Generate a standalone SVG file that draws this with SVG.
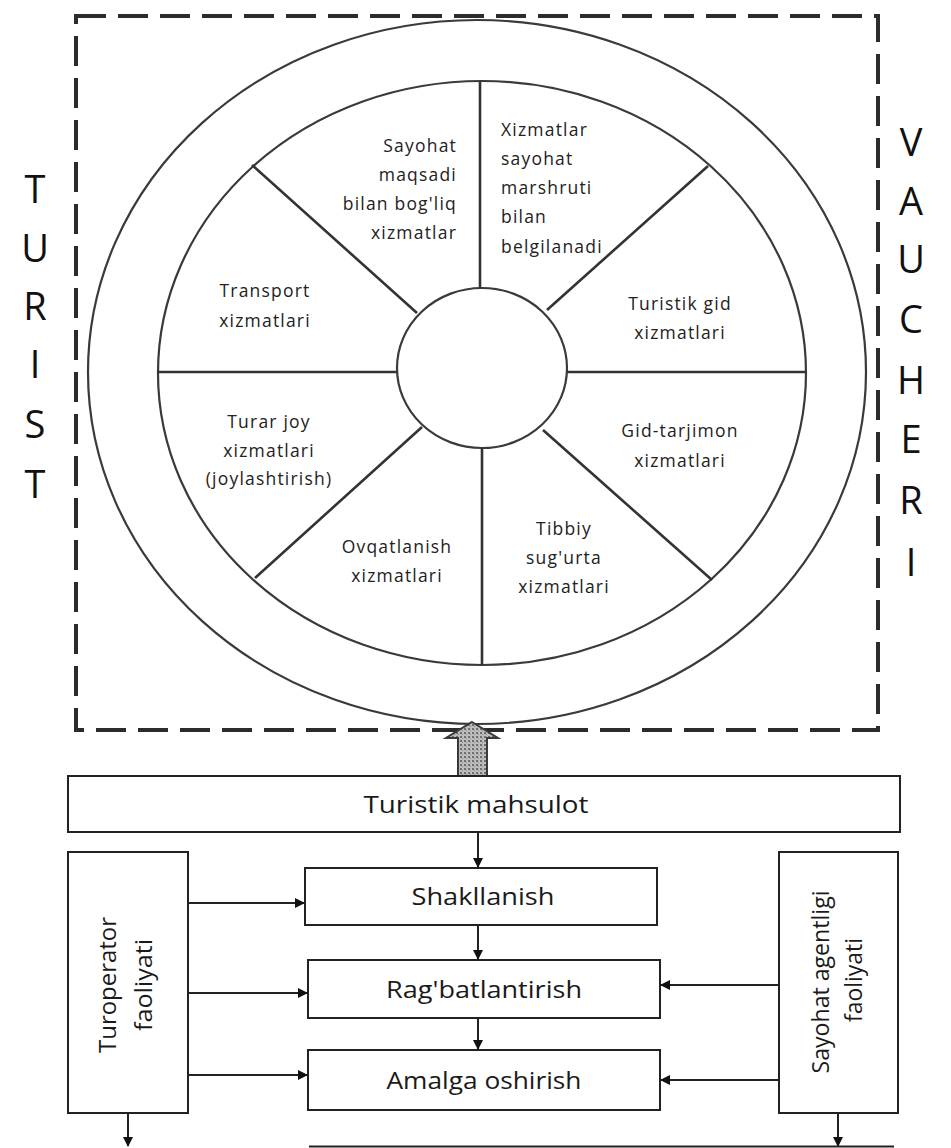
<svg xmlns="http://www.w3.org/2000/svg" width="951" height="1148" viewBox="0 0 951 1148">
  <style>
    .wheel { fill: none; stroke: #3a3a3a; stroke-width: 2.2; }
    .spoke { stroke: #333; stroke-width: 2.6; }
    .lbl { font-family: "Open Sans", "Noto Sans", sans-serif; font-size: 17.5px; fill: #222; letter-spacing: 1.2px; }
    .side { font-family: "Open Sans", "Noto Sans", sans-serif; font-size: 38px; fill: #111; text-anchor: middle; }
    .box { fill: #fff; stroke: #222; stroke-width: 2; }
    .btxt { font-family: "Open Sans", "Noto Sans", sans-serif; font-size: 24px; fill: #1a1a1a; text-anchor: middle; }
    .conn { stroke: #222; stroke-width: 2; fill: none; }
  </style>
  <defs>
    <marker id="ah" markerWidth="10" markerHeight="10" refX="9" refY="5" orient="auto" markerUnits="userSpaceOnUse">
      <path d="M0,0 L10,5 L0,10 Z" fill="#111"/>
    </marker>
    <pattern id="grain" width="4" height="4" patternUnits="userSpaceOnUse">
      <rect width="4" height="4" fill="#bdbdbd"/>
      <rect x="0" y="0" width="2" height="2" fill="#6e6e6e"/>
      <rect x="2" y="2" width="1" height="1" fill="#8c8c8c"/>
    </pattern>
  </defs>
  <rect width="951" height="1148" fill="#fff"/>

  <!-- dashed frame around the wheel -->
  <g id="frame">
    <rect x="76" y="16" width="802" height="714" fill="none" stroke="#2c2c2c" stroke-width="4" stroke-dasharray="30 12"/>
  </g>

  <!-- wheel of tourist services -->
  <g id="wheel">
    <ellipse class="wheel" cx="477" cy="372" rx="389" ry="352"/>
    <ellipse class="wheel" cx="482" cy="373" rx="324" ry="292"/>
    <ellipse class="wheel" cx="482" cy="368" rx="85" ry="80"/>
    <line class="spoke" x1="480" y1="288" x2="480" y2="81" stroke-width="3.2"/>
    <line class="spoke" x1="482" y1="448" x2="482" y2="665"/>
    <line class="spoke" x1="158" y1="372" x2="397" y2="372"/>
    <line class="spoke" x1="567" y1="372" x2="806" y2="372"/>
    <line class="spoke" x1="252" y1="165" x2="417" y2="313"/>
    <line class="spoke" x1="708" y1="166" x2="547" y2="310"/>
    <line class="spoke" x1="422" y1="427" x2="255" y2="578"/>
    <line class="spoke" x1="543" y1="430" x2="712" y2="580"/>
  </g>

  <g id="seg-maqsad" class="lbl" text-anchor="end">
    <text x="457" y="152">Sayohat</text>
    <text x="457" y="181">maqsadi</text>
    <text x="457" y="210">bilan bog'liq</text>
    <text x="457" y="239">xizmatlar</text>
  </g>
  <g id="seg-marshrut" class="lbl" text-anchor="start">
    <text x="501" y="136">Xizmatlar</text>
    <text x="501" y="165">sayohat</text>
    <text x="501" y="194">marshruti</text>
    <text x="501" y="223">bilan</text>
    <text x="501" y="253">belgilanadi</text>
  </g>
  <g id="seg-gid" class="lbl" text-anchor="middle">
    <text x="680" y="310">Turistik gid</text>
    <text x="680" y="339">xizmatlari</text>
  </g>
  <g id="seg-transport" class="lbl" text-anchor="middle">
    <text x="265" y="297">Transport</text>
    <text x="265" y="327">xizmatlari</text>
  </g>
  <g id="seg-turar" class="lbl" text-anchor="middle">
    <text x="269" y="428">Turar joy</text>
    <text x="269" y="457">xizmatlari</text>
    <text x="269" y="485">(joylashtirish)</text>
  </g>
  <g id="seg-ovqat" class="lbl" text-anchor="middle">
    <text x="397" y="553">Ovqatlanish</text>
    <text x="397" y="582">xizmatlari</text>
  </g>
  <g id="seg-tarjimon" class="lbl" text-anchor="middle">
    <text x="680" y="437">Gid-tarjimon</text>
    <text x="680" y="467">xizmatlari</text>
  </g>
  <g id="seg-tibbiy" class="lbl" text-anchor="middle">
    <text x="564" y="535">Tibbiy</text>
    <text x="564" y="564">sug'urta</text>
    <text x="564" y="593">xizmatlari</text>
  </g>

  <!-- vertical side captions -->
  <g id="turist" class="side">
    <text x="35" y="203">T</text>
    <text x="35" y="262">U</text>
    <text x="35" y="320">R</text>
    <text x="35" y="378">I</text>
    <text x="35" y="438">S</text>
    <text x="35" y="498">T</text>
  </g>
  <g id="vaucheri" class="side">
    <text x="911" y="156">V</text>
    <text x="911" y="215">A</text>
    <text x="911" y="273">U</text>
    <text x="911" y="333">C</text>
    <text x="911" y="394">H</text>
    <text x="911" y="453">E</text>
    <text x="911" y="514">R</text>
    <text x="911" y="576">I</text>
  </g>

  <!-- product arrow feeding the wheel -->
  <g id="product-arrow">
    <polygon points="472,722 498,738 487,738 487,776 458,776 458,738 446,738" fill="url(#grain)" stroke="#3a3a3a" stroke-width="2"/>
  </g>

  <g id="mahsulot">
    <rect class="box" x="68" y="776" width="832" height="56"/>
    <text class="btxt" x="476" y="813" textLength="225" lengthAdjust="spacingAndGlyphs">Turistik mahsulot</text>
  </g>
  <g id="shakllanish">
    <rect class="box" x="305" y="868" width="352" height="57"/>
    <text class="btxt" x="483" y="905" textLength="143" lengthAdjust="spacingAndGlyphs">Shakllanish</text>
  </g>
  <g id="ragbat">
    <rect class="box" x="308" y="960" width="352" height="58"/>
    <text class="btxt" x="484" y="998" textLength="196" lengthAdjust="spacingAndGlyphs">Rag'batlantirish</text>
  </g>
  <g id="amalga">
    <rect class="box" x="308" y="1050" width="352" height="60"/>
    <text class="btxt" x="484" y="1089" textLength="195" lengthAdjust="spacingAndGlyphs">Amalga oshirish</text>
  </g>
  <g id="turoperator">
    <rect class="box" x="68" y="852" width="120" height="261"/>
    <text class="btxt" transform="translate(116,985) rotate(-90)" textLength="136" lengthAdjust="spacingAndGlyphs">Turoperator</text>
    <text class="btxt" transform="translate(152,985) rotate(-90)" textLength="92" lengthAdjust="spacingAndGlyphs">faoliyati</text>
  </g>
  <g id="agentlik">
    <rect class="box" x="779" y="852" width="119" height="261"/>
    <text class="btxt" transform="translate(829,982) rotate(-90)" textLength="183" lengthAdjust="spacingAndGlyphs">Sayohat agentligi</text>
    <text class="btxt" transform="translate(862,980) rotate(-90)" textLength="84" lengthAdjust="spacingAndGlyphs">faoliyati</text>
  </g>

  <!-- connectors -->
  <g id="connectors">
    <line class="conn" x1="478" y1="832" x2="478" y2="867" marker-end="url(#ah)"/>
    <line class="conn" x1="478" y1="925" x2="478" y2="959" marker-end="url(#ah)"/>
    <line class="conn" x1="478" y1="1018" x2="478" y2="1049" marker-end="url(#ah)"/>
    <line class="conn" x1="188" y1="903" x2="304" y2="903" marker-end="url(#ah)"/>
    <line class="conn" x1="188" y1="993" x2="307" y2="993" marker-end="url(#ah)"/>
    <line class="conn" x1="188" y1="1075" x2="307" y2="1075" marker-end="url(#ah)"/>
    <line class="conn" x1="779" y1="985" x2="661" y2="985" marker-end="url(#ah)"/>
    <line class="conn" x1="779" y1="1080" x2="661" y2="1080" marker-end="url(#ah)"/>
    <line class="conn" x1="128" y1="1113" x2="128" y2="1146" marker-end="url(#ah)"/>
    <line class="conn" x1="838" y1="1113" x2="838" y2="1146" marker-end="url(#ah)"/>
    <line class="conn" x1="309" y1="1146.5" x2="894" y2="1146.5"/>
  </g>
</svg>
